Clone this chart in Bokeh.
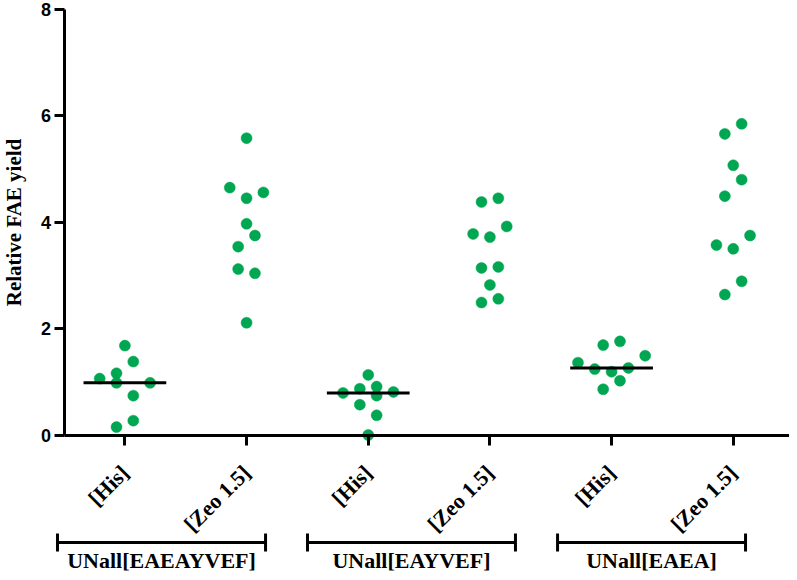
from math import pi
import numpy as np
from bokeh.plotting import figure
from bokeh.models import Range1d, FixedTicker
from bokeh.core.properties import value
from bokeh.embed import file_html
from bokeh.resources import INLINE

# ---------------- data ----------------
categories = ["[His]", "[Zeo 1.5]", "[His]", "[Zeo 1.5]", "[His]", "[Zeo 1.5]"]
groups = ["UNall[EAEAYVEF]", "UNall[EAYVEF]", "UNall[EAEA]"]
y_ticks = [0, 2, 4, 6, 8]

his_eaeayvef = [1.68, 1.38, 1.16, 1.06, 0.98, 0.98, 0.74, 0.27, 0.15]
zeo_eaeayvef = [5.58, 4.65, 4.56, 4.45, 3.97, 3.75, 3.54, 3.12, 3.04, 2.11]
his_eayvef = [1.13, 0.87, 0.91, 0.79, 0.81, 0.74, 0.57, 0.37, 0.00]
zeo_eayvef = [4.38, 4.45, 3.78, 3.72, 3.92, 3.14, 3.16, 2.82, 2.49, 2.56]
his_eaea = [1.36, 1.69, 1.76, 1.49, 1.24, 1.19, 1.26, 1.02, 0.86]
zeo_eaea = [5.85, 5.66, 5.07, 4.80, 4.49, 3.75, 3.57, 3.50, 2.89, 2.64]

# beeswarm column slots of each point
his_eaeayvef_slot = [0, 1, -1, -3, -1, 3, 1, 1, -1]
zeo_eaeayvef_slot = [0, -2, 2, 0, 0, 1, -1, -1, 1, 0]
his_eayvef_slot = [0, -1, 1, -3, 3, 1, -1, 1, 0]
zeo_eayvef_slot = [-1, 1, -2, 0, 2, -1, 1, 0, -1, 1]
his_eaea_slot = [-4, -1, 1, 4, -2, 0, 2, 1, -1]
zeo_eaea_slot = [1, -1, 0, 1, -1, 2, -2, 0, 1, -1]

# extent of each group bracket, in category units
group_start = [-0.554, 1.501, 3.556]
group_end = [1.156, 3.210, 5.101]

series = [his_eaeayvef, zeo_eaeayvef, his_eayvef, zeo_eayvef, his_eaea, zeo_eaea]
slots = [his_eaeayvef_slot, zeo_eaeayvef_slot, his_eayvef_slot,
         zeo_eayvef_slot, his_eaea_slot, zeo_eaea_slot]
show_median = [True, False, True, False, True, False]

# ---------------- layout geometry ----------------
W, H = 789, 572
X0_PX, DX_PX = 124.4, 121.67      # category 0 centre / spacing (px)
Y0_PX, DY_PX = 434.5, 53.2        # y=0 position / px per unit (px)


def xd(px):
    return (px - X0_PX) / DX_PX


def yd(px):
    return (Y0_PX - px) / DY_PX


slot_w = 8.4 / DX_PX
GREEN = "#00A651"

p = figure(width=W, height=H, output_backend="svg", toolbar_location=None,
           x_range=Range1d(xd(0), xd(W)), y_range=Range1d(yd(H), yd(0)),
           min_border_left=0, min_border_right=0, min_border_top=0,
           min_border_bottom=0)
p.outline_line_color = None
p.grid.visible = False
p.background_fill_color = "white"
p.border_fill_color = "white"

# x axis (at y = 0)
xa = p.xaxis[0]
xa.fixed_location = 0
xa.bounds = (-0.5, len(categories) - 0.5)
xa.ticker = FixedTicker(ticks=list(range(len(categories))))
xa.major_label_overrides = {i: c for i, c in enumerate(categories)}
xa.major_label_orientation = pi / 4
xa.major_label_text_font = "Liberation Serif"
xa.major_label_text_font_style = "bold"
xa.major_label_text_font_size = "22px"
xa.major_label_text_color = "black"
xa.major_label_standoff = 24
xa.minor_tick_line_color = None
xa.major_tick_in = 0
xa.major_tick_out = 10
xa.major_tick_line_width = 3
xa.axis_line_width = 3
xa.axis_line_color = "black"
xa.major_tick_line_color = "black"

# y axis (at the left edge of the first category block)
ya = p.yaxis[0]
ya.fixed_location = -0.5
ya.bounds = (0, 8)
ya.ticker = FixedTicker(ticks=y_ticks)
ya.major_label_text_font = "Liberation Sans"
ya.major_label_text_font_style = "bold"
ya.major_label_text_font_size = "18px"
ya.major_label_text_color = "black"
ya.major_label_standoff = 3
ya.minor_tick_line_color = None
ya.major_tick_in = 0
ya.major_tick_out = 10
ya.major_tick_line_width = 3
ya.axis_line_width = 3
ya.axis_line_color = "black"
ya.major_tick_line_color = "black"
ya.axis_label = "Relative FAE yield"
ya.axis_label_text_font = "Liberation Serif"
ya.axis_label_text_font_style = "bold"
ya.axis_label_text_font_size = "21px"
ya.axis_label_text_color = "black"
ya.axis_label_standoff = 12

# points
xs, ys = [], []
for i, (vals, sl) in enumerate(zip(series, slots)):
    for v, s in zip(vals, sl):
        xs.append(i + s * slot_w)
        ys.append(v)
p.scatter(x=xs, y=ys, size=11, marker="circle", fill_color=GREEN,
          line_color=GREEN, line_width=0.5)

# medians
mx0, mx1, my = [], [], []
for i, (vals, show) in enumerate(zip(series, show_median)):
    if show:
        m = float(np.median(vals))
        mx0.append(i - 0.34)
        mx1.append(i + 0.34)
        my.append(m)
p.segment(x0=mx0, y0=my, x1=mx1, y1=my, line_color="black", line_width=3)

# group brackets
by = yd(542.0)
cap = 9.0 / DY_PX
n = len(groups)
p.segment(x0=group_start, y0=[by] * n, x1=group_end, y1=[by] * n,
          line_color="black", line_width=3)
p.segment(x0=group_start + group_end, y0=[by - cap] * (2 * n),
          x1=group_start + group_end, y1=[by + cap] * (2 * n),
          line_color="black", line_width=3)
gx = [(a + b) / 2 for a, b in zip(group_start, group_end)]
p.text(x=gx, y=[yd(560.0)] * n, text=groups, text_align="center",
       text_baseline="alphabetic", text_font=value("Liberation Serif"),
       text_font_style="bold", text_font_size="22px", text_color="black")

open("out.html", "w").write(file_html(p, INLINE))
